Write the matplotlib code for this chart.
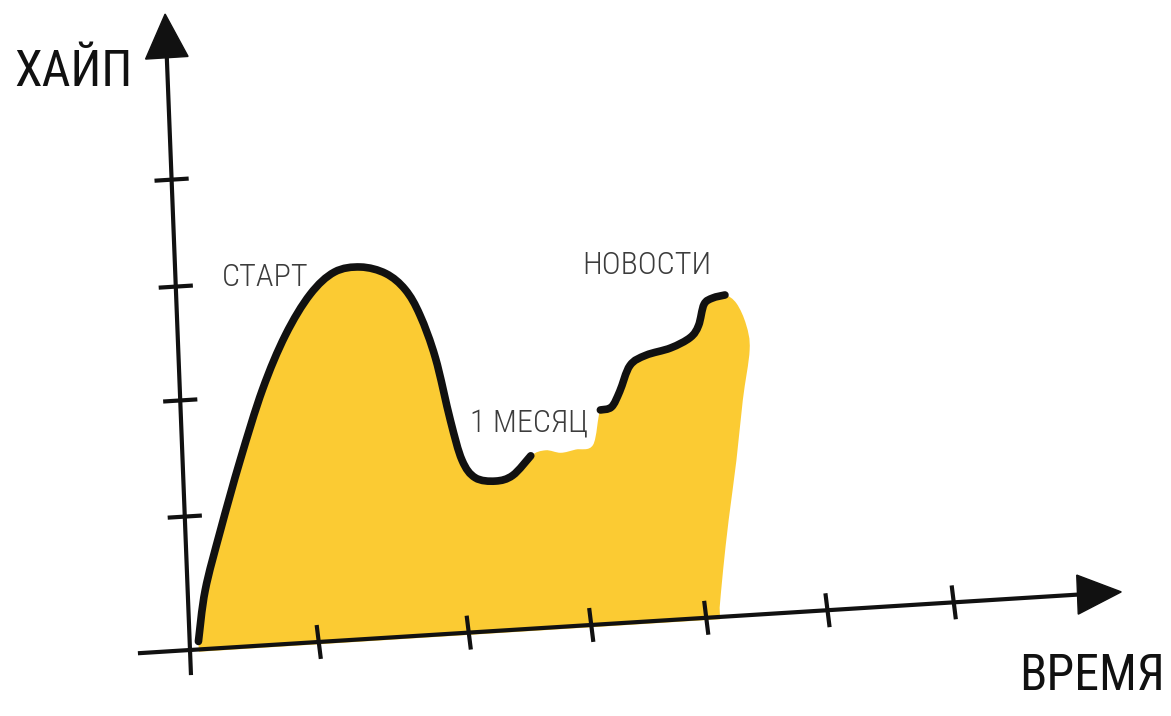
import numpy as np
import matplotlib.pyplot as plt
from matplotlib.path import Path
from matplotlib.patches import PathPatch
from matplotlib.transforms import Affine2D

# hype curve before the "1 месяц" label (time units, hype units)
start_t = [0.07, 0.14, 0.28, 0.46, 0.66, 0.86, 1.07, 1.27, 1.48, 1.68, 1.83, 1.94,
           2.05, 2.15, 2.23, 2.33, 2.49, 2.63, 2.78]
start_h = [0.07, 0.51, 1.02, 1.62, 2.22, 2.68, 3.02, 3.20, 3.23, 3.16, 3.01, 2.78,
           2.40, 1.85, 1.50, 1.34, 1.30, 1.34, 1.50]

# hype curve after the label, up to the news bump
news_t = [3.35, 3.44, 3.51, 3.60, 3.73, 3.93, 4.09, 4.16, 4.21, 4.28, 4.38]
news_h = [1.86, 1.88, 2.01, 2.23, 2.31, 2.36, 2.44, 2.54, 2.72, 2.77, 2.79]

# yellow paint where there is no black line
gap_t = [2.90, 3.02, 3.14, 3.28]
gap_h = [1.54, 1.51, 1.53, 1.56]
edge_t = [4.47, 4.54, 4.56, 4.49, 4.42, 4.34, 4.28, 4.24]
edge_h = [2.71, 2.52, 2.30, 1.87, 1.35, 0.84, 0.41, 0.08]
base_h = -0.02

x_ticks = [1.02, 2.22, 3.20, 4.12, 5.09, 6.10]
y_ticks = [1.16, 2.17, 3.16, 4.09]
x_end = 7.3
y_end = 5.45

YELLOW = '#FBCB33'
INK = '#111111'
LABEL = '#3c3c3c'
FONT = ['Roboto Condensed', 'DejaVu Sans']


def smooth_path(tt, hh, floor=None):
    # catmull-rom through the points, written as bezier segments
    p = np.column_stack([tt, hh])
    n = len(p)
    verts = [p[0]]
    codes = [Path.MOVETO]
    for i in range(n - 1):
        p0 = p[i - 1] if i > 0 else p[i]
        p1, p2 = p[i], p[i + 1]
        p3 = p[i + 2] if i + 2 < n else p[i + 1]
        verts += [p1 + (p2 - p0) / 6, p2 - (p3 - p1) / 6, p2]
        codes += [Path.CURVE4] * 3
    if floor is not None:
        verts += [(p[-1][0], floor), (p[0][0], floor), p[0]]
        codes += [Path.LINETO, Path.LINETO, Path.CLOSEPOLY]
    return Path(verts, codes)


fig = plt.figure(figsize=(11.71, 7.16), dpi=100)
ax = fig.add_axes([0, 0, 1, 1])
ax.set_xlim(0, 1171)
ax.set_ylim(716, 0)
ax.axis('off')

# hand-drawn axes are tilted a bit, so skew the data into the picture
sketch = Affine2D().from_values(125, -7.8, -4.5, -115, 190, 650) + ax.transData

fill_t = start_t + gap_t + news_t + edge_t
fill_h = start_h + gap_h + news_h + edge_h
ax.add_patch(PathPatch(smooth_path(fill_t, fill_h, floor=base_h), facecolor=YELLOW,
                       lw=0, transform=sketch, zorder=1))

for tt, hh in [(start_t, start_h), (news_t, news_h)]:
    ax.add_patch(PathPatch(smooth_path(tt, hh), facecolor='none', edgecolor=INK, lw=5.5,
                           capstyle='round', joinstyle='round', transform=sketch, zorder=3))

# axes
ax.plot([-0.4, x_end], [0, 0], color=INK, lw=3, transform=sketch, zorder=2)
ax.plot([0, 0], [-0.2, y_end], color=INK, lw=3, transform=sketch, zorder=2)
ax.fill([x_end - 0.2, x_end + 0.15, x_end - 0.2], [0.17, 0, -0.17],
        color=INK, transform=sketch, zorder=2)
ax.fill([-0.17, 0, 0.17], [y_end - 0.3, y_end + 0.08, y_end - 0.3],
        color=INK, transform=sketch, zorder=2)

for t in x_ticks:
    ax.plot([t, t + 0.02], [0.13, -0.13], color=INK, lw=3, transform=sketch, zorder=2)
for h in y_ticks:
    ax.plot([-0.12, 0.12], [h, h], color=INK, lw=3, transform=sketch, zorder=2)

big = dict(family=FONT, stretch='condensed', color=INK, va='center', fontsize=36)
small = dict(family=FONT, stretch='condensed', weight='light', color=LABEL, va='center',
             fontsize=23, ha='left')
ax.text(14, 72, 'ХАЙП', ha='left', **big)
ax.text(1165, 676, 'ВРЕМЯ', ha='right', **big)
ax.text(222, 278, 'СТАРТ', **small)
ax.text(582, 266, 'НОВОСТИ', **small)
ax.text(470, 424, '1 МЕСЯЦ', **small)

fig.savefig('out.png', dpi=100)
